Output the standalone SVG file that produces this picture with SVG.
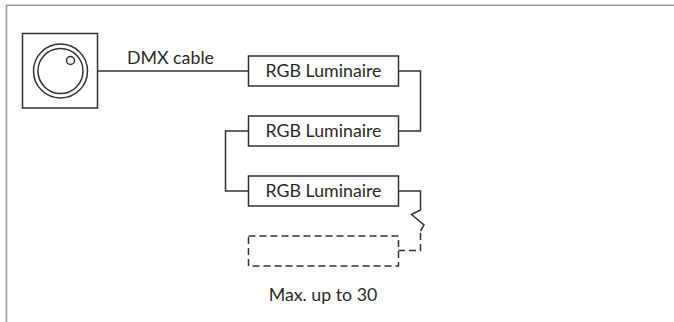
<svg xmlns="http://www.w3.org/2000/svg" width="674" height="322" viewBox="0 0 674 322">
<style>
.frame{fill:none;stroke:#9a9a9a;stroke-width:1.6}
.box{fill:#fff;stroke:#333;stroke-width:1.5}
.wire{fill:none;stroke:#333;stroke-width:1.5}
.dash{fill:none;stroke:#333;stroke-width:1.5;stroke-dasharray:7,4}
.t{font-family:Lato,"Liberation Sans",sans-serif;font-size:17.8px;fill:#2a2a2a}
</style>
<rect width="674" height="322" fill="#fff"/>
<path class="frame" d="M6.5,322 V5.2 H674"/>
<g id="connectors">
<path class="wire" d="M97.5,71 H248.5"/>
<path class="wire" d="M398.5,71 H420.5 V131 H398.5"/>
<path class="wire" d="M248.5,131 H225.5 V191 H248.5"/>
<path class="wire" d="M398.5,191 H420.5 V210 L411.5,214.5 L424,225 L420.5,231"/>
<path class="dash" d="M420.5,233 V250.5 H398.5"/>
</g>
<g id="controller">
<rect class="box" x="22.5" y="33.5" width="75" height="74.5"/>
<circle class="wire" cx="60.5" cy="71" r="27"/>
<circle class="wire" cx="60.5" cy="71" r="22.5"/>
<circle class="wire" cx="70.5" cy="60.5" r="4"/>
</g>
<text class="t" x="127" y="63.5">DMX cable</text>
<g id="lum1">
<rect class="box" x="248.5" y="56" width="150" height="30"/>
<text class="t" x="323.5" y="77" text-anchor="middle">RGB Luminaire</text>
</g>
<g id="lum2">
<rect class="box" x="248.5" y="116" width="150" height="30"/>
<text class="t" x="323.5" y="137" text-anchor="middle">RGB Luminaire</text>
</g>
<g id="lum3">
<rect class="box" x="248.5" y="176" width="150" height="30"/>
<text class="t" x="323.5" y="197" text-anchor="middle">RGB Luminaire</text>
</g>
<g id="lumN">
<rect class="dash" x="248.5" y="236" width="150" height="30"/>
</g>
<text class="t" x="323" y="300.5" text-anchor="middle">Max. up to 30</text>
</svg>
